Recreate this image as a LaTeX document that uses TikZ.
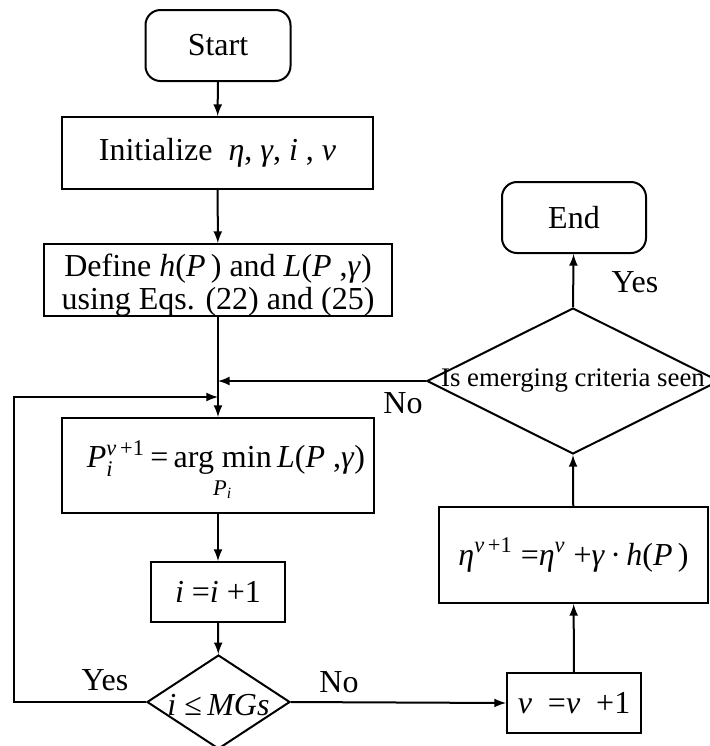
\documentclass[tikz,border=0pt]{standalone}
\usepackage{amsmath}
\usepackage{fontspec}
\setmainfont{Liberation Serif}
\usetikzlibrary{shapes.geometric}
\newcommand{\itx}[1]{\textit{#1}}

\begin{document}
\begin{tikzpicture}[x=0.5pt, y=-0.5pt, line width=1pt, font=\fontsize{16}{19}\selectfont,
  terminal/.style={draw, rounded corners=7.5pt, inner sep=0pt},
  procbox/.style={draw, inner sep=0pt, align=center},
  decision/.style={draw, diamond, inner sep=0pt},
  flow/.style={-latex}]
 \useasboundingbox (0,0) rectangle (709,746);
  % left column
  \node[terminal, minimum width=72.5pt, minimum height=35.5pt] (start) at (218,45.5) {Start};
  \node[procbox, minimum width=155.5pt, minimum height=36pt] (init) at (217.5,153) {Initialize\ \ \itx{η}, \itx{γ}, \itx{i} , \itx{v}};
  \node[procbox, minimum width=174pt, minimum height=36pt] (define) at (218,280) {};
  \node[align=center, font=\fontsize{16}{16.5}\selectfont] at ([yshift=-2.5pt]define.center)
    {Define \itx{h}(\itx{P}\,) and \itx{L}(\itx{P} ,\itx{γ})\\using Eqs. (22) and (25)};
  \node[procbox, minimum width=156pt, minimum height=47.5pt] (argmin) at (218,465.5) {};
  \node at ([xshift=4pt, yshift=-3pt]argmin.center)
    {$\text{\itx{P}}_{\text{\itx{i}}}^{\text{\itx{v}\,+1}}$\,=\,$\underset{\text{\itx{P}\textsubscript{\itx{i}}}}{\text{arg min}}$\,\itx{L}(\itx{P} ,\itx{γ})};
  \node[procbox, minimum width=67pt, minimum height=30pt] (incri) at (218,592) {\itx{i}\ =\itx{i}\ +1};
  \node[decision, minimum width=71.5pt, minimum height=47pt, label={[yshift=-1.5pt]center:\itx{i}\ ≤\,\itx{MGs}}] (checki) at (218.5,702) {};
  % right column
  \node[procbox, minimum width=67pt, minimum height=30pt] (incrv) at (574,703) {\itx{v}\ \ =\itx{v}\ \ +1};
  \node[procbox, minimum width=134.5pt, minimum height=48pt] (update) at (573.5,555)
    {\itx{η}\textsuperscript{\itx{v}\,+1} =\itx{η}\textsuperscript{\itx{v}}\ +\itx{γ}\,·\,\itx{h}(\itx{P}\,)};
  \node[decision, minimum width=146pt, minimum height=73pt, label={[font=\fontsize{13.4}{16}\selectfont]center:Is emerging criteria seen}] (conv) at (573,381) {};
  \node[terminal, minimum width=72pt, minimum height=35.5pt] (stop) at (574,217.5) {End};
  \coordinate (joinno) at (218,381);
  \coordinate (joinyes) at (218,397);
  % connectors
  \draw[flow] (start) -- (init);
  \draw[flow] (init) -- (define);
  \draw[flow] (define) -- (argmin);
  \draw[flow] (argmin) -- (incri);
  \draw[flow] (incri) -- (checki);
  \draw[flow] (checki.west) -- (14,702) |- (joinyes);
  \draw[flow] (checki.east) -- (incrv.west);
  \draw[flow] (incrv) -- (update);
  \draw[flow] (update) -- (conv.south);
  \draw[flow] (conv.north) -- (stop);
  \draw[flow] (conv.west) -- (joinno);
  % labels
  \node at (105,680) {Yes};
  \node at (339,682) {No};
  \node at (635,282) {Yes};
  \node at (403,403) {No};
 \end{tikzpicture}
\end{document}
